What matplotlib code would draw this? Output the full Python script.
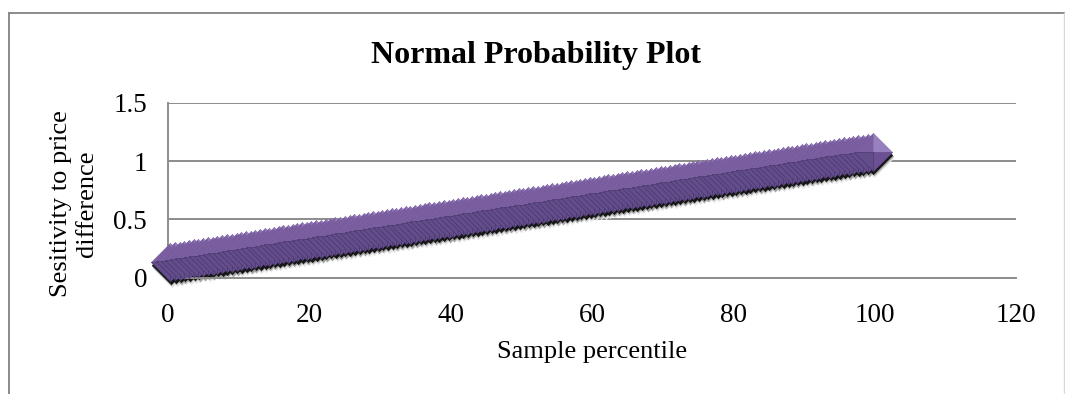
import matplotlib
matplotlib.use("Agg")
import matplotlib.pyplot as plt
from matplotlib.path import Path
from matplotlib.lines import Line2D
from matplotlib.transforms import ScaledTranslation

# Sample percentile (x) and sorted sensitivity values (y)
percentile = [
    0.3, 1.0, 1.7, 2.3, 3.0, 3.7, 4.3, 5.0, 5.7, 6.3, 7.0, 7.7, 8.3, 9.0, 9.7,
    10.3, 11.0, 11.7, 12.3, 13.0, 13.7, 14.3, 15.0, 15.7, 16.3, 17.0, 17.7, 18.3, 19.0, 19.7,
    20.3, 21.0, 21.7, 22.3, 23.0, 23.7, 24.3, 25.0, 25.7, 26.3, 27.0, 27.7, 28.3, 29.0, 29.7,
    30.3, 31.0, 31.7, 32.3, 33.0, 33.7, 34.3, 35.0, 35.7, 36.3, 37.0, 37.7, 38.3, 39.0, 39.7,
    40.3, 41.0, 41.7, 42.3, 43.0, 43.7, 44.3, 45.0, 45.7, 46.3, 47.0, 47.7, 48.3, 49.0, 49.7,
    50.3, 51.0, 51.7, 52.3, 53.0, 53.7, 54.3, 55.0, 55.7, 56.3, 57.0, 57.7, 58.3, 59.0, 59.7,
    60.3, 61.0, 61.7, 62.3, 63.0, 63.7, 64.3, 65.0, 65.7, 66.3, 67.0, 67.7, 68.3, 69.0, 69.7,
    70.3, 71.0, 71.7, 72.3, 73.0, 73.7, 74.3, 75.0, 75.7, 76.3, 77.0, 77.7, 78.3, 79.0, 79.7,
    80.3, 81.0, 81.7, 82.3, 83.0, 83.7, 84.3, 85.0, 85.7, 86.3, 87.0, 87.7, 88.3, 89.0, 89.7,
    90.3, 91.0, 91.7, 92.3, 93.0, 93.7, 94.3, 95.0, 95.7, 96.3, 97.0, 97.7, 98.3, 99.0, 99.7,
]
sensitivity = [
    0.133, 0.140, 0.146, 0.152, 0.159, 0.165, 0.171, 0.178, 0.184, 0.190, 0.197, 0.203, 0.209, 0.216, 0.222,
    0.228, 0.235, 0.241, 0.247, 0.254, 0.260, 0.266, 0.273, 0.279, 0.285, 0.292, 0.298, 0.304, 0.311, 0.317,
    0.323, 0.330, 0.336, 0.342, 0.349, 0.355, 0.361, 0.368, 0.374, 0.380, 0.387, 0.393, 0.399, 0.406, 0.412,
    0.418, 0.425, 0.431, 0.437, 0.444, 0.450, 0.456, 0.463, 0.469, 0.475, 0.482, 0.488, 0.494, 0.501, 0.507,
    0.513, 0.520, 0.526, 0.532, 0.539, 0.545, 0.551, 0.558, 0.564, 0.570, 0.577, 0.583, 0.589, 0.596, 0.602,
    0.608, 0.615, 0.621, 0.627, 0.634, 0.640, 0.646, 0.653, 0.659, 0.665, 0.672, 0.678, 0.684, 0.691, 0.697,
    0.703, 0.710, 0.716, 0.722, 0.729, 0.735, 0.741, 0.748, 0.754, 0.760, 0.767, 0.773, 0.779, 0.786, 0.792,
    0.798, 0.805, 0.811, 0.817, 0.824, 0.830, 0.836, 0.843, 0.849, 0.855, 0.862, 0.868, 0.874, 0.881, 0.887,
    0.893, 0.900, 0.906, 0.912, 0.919, 0.925, 0.931, 0.938, 0.944, 0.950, 0.957, 0.963, 0.969, 0.976, 0.982,
    0.988, 0.995, 1.001, 1.007, 1.014, 1.020, 1.026, 1.033, 1.039, 1.045, 1.052, 1.058, 1.064, 1.071, 1.077,
]

x_ticks = [0, 20, 40, 60, 80, 100, 120]
y_ticks = [0, 0.5, 1, 1.5]
y_tick_labels = ["0", "0.5", "1", "1.5"]

title = "Normal Probability Plot"
x_label = "Sample percentile"
y_label = "Sesitivity to price\ndifference"

plt.rcParams["font.family"] = ["Liberation Serif", "DejaVu Serif"]

W, H = 1065, 394
fig = plt.figure(figsize=(W / 100, H / 100), dpi=100)
fig.patch.set_facecolor("white")

# Chart-area border (left, top, right)
border = "#8a8a8a"
fig.add_artist(Line2D([9 / W, 9 / W], [0, 1 - 13 / H], transform=fig.transFigure,
                      color=border, lw=1.4))
fig.add_artist(Line2D([9 / W, 1064 / W], [1 - 13 / H, 1 - 13 / H], transform=fig.transFigure,
                      color=border, lw=1.4))
fig.add_artist(Line2D([1064 / W, 1064 / W], [0, 1 - 13 / H], transform=fig.transFigure,
                      color="#d8d8d8", lw=1.0))

left, right = 168 / W, 1016 / W
top, bottom = 1 - 102.7 / H, 1 - 277.7 / H
ax = fig.add_axes([left, bottom, right - left, top - bottom])
ax.set_xlim(0, 120)
ax.set_ylim(0, 1.5)
ax.set_xticks(x_ticks)
ax.set_xticklabels([str(t) for t in x_ticks])
ax.set_yticks(y_ticks)
ax.set_yticklabels(y_tick_labels)
ax.tick_params(axis="both", length=0, labelsize=19.5, colors="black")
ax.tick_params(axis="y", pad=15)
ax.tick_params(axis="x", pad=18)

grid_col = "#8c8c8c"
ax.yaxis.grid(True, color=grid_col, lw=1.4)
ax.set_axisbelow(True)
for s in ("top", "right"):
    ax.spines[s].set_visible(False)
for s in ("left", "bottom"):
    ax.spines[s].set_color(grid_col)
    ax.spines[s].set_linewidth(1.4)
ax.set_facecolor("none")

# Bevelled diamond marker built from four triangular faces
L, T, R, B, C = (-1, 0), (0, 1), (1, 0), (0, -1), (0, 0)
codes = [Path.MOVETO, Path.LINETO, Path.LINETO, Path.CLOSEPOLY]
faces = [
    (Path([L, T, C, L], codes), "#7b5fa0", "#74599a", 0.4),
    (Path([T, R, C, T], codes), "#9880bf", "#8d74b5", 0.4),
    (Path([R, B, C, R], codes), "#6b5193", "#634a8b", 0.4),
    (Path([B, L, C, B], codes), "#634d8b", "#47386b", 0.45),
]
diamond = Path([L, T, R, B, L], [Path.MOVETO, Path.LINETO, Path.LINETO, Path.LINETO, Path.CLOSEPOLY])
MS = 27.5

# Soft drop shadow beneath the markers
for dx, dy, col, z in [(1.5, 5.5, "#e4e4e4", 2.1), (1.2, 4.0, "#a0a0a0", 2.2), (0.8, 2.5, "#151515", 2.3)]:
    off = ScaledTranslation(dx / 100, -dy / 100, fig.dpi_scale_trans)
    ax.plot(percentile, sensitivity, ls="none", marker=diamond, ms=MS, mfc=col, mec=col, mew=0.5,
            transform=ax.transData + off, zorder=z, clip_on=False)

for i, (xv, yv) in enumerate(zip(percentile, sensitivity)):
    z = 3 + i * 1e-3
    for path, fc, ec, lw in faces:
        ax.plot([xv], [yv], ls="none", marker=path, ms=MS, mfc=fc, mec=ec, mew=lw,
                zorder=z, clip_on=False)

fig.text(536 / W, 1 - 55 / H, title, ha="center", va="center", fontsize=23, fontweight="bold")
fig.text(592 / W, 1 - 352 / H, x_label, ha="center", va="center", fontsize=19)
fig.text(74 / W, 1 - 204 / H, y_label, ha="center", va="center", fontsize=19,
         rotation=90, linespacing=1.25, multialignment="center")

fig.savefig("out.png", dpi=100, facecolor="white")
